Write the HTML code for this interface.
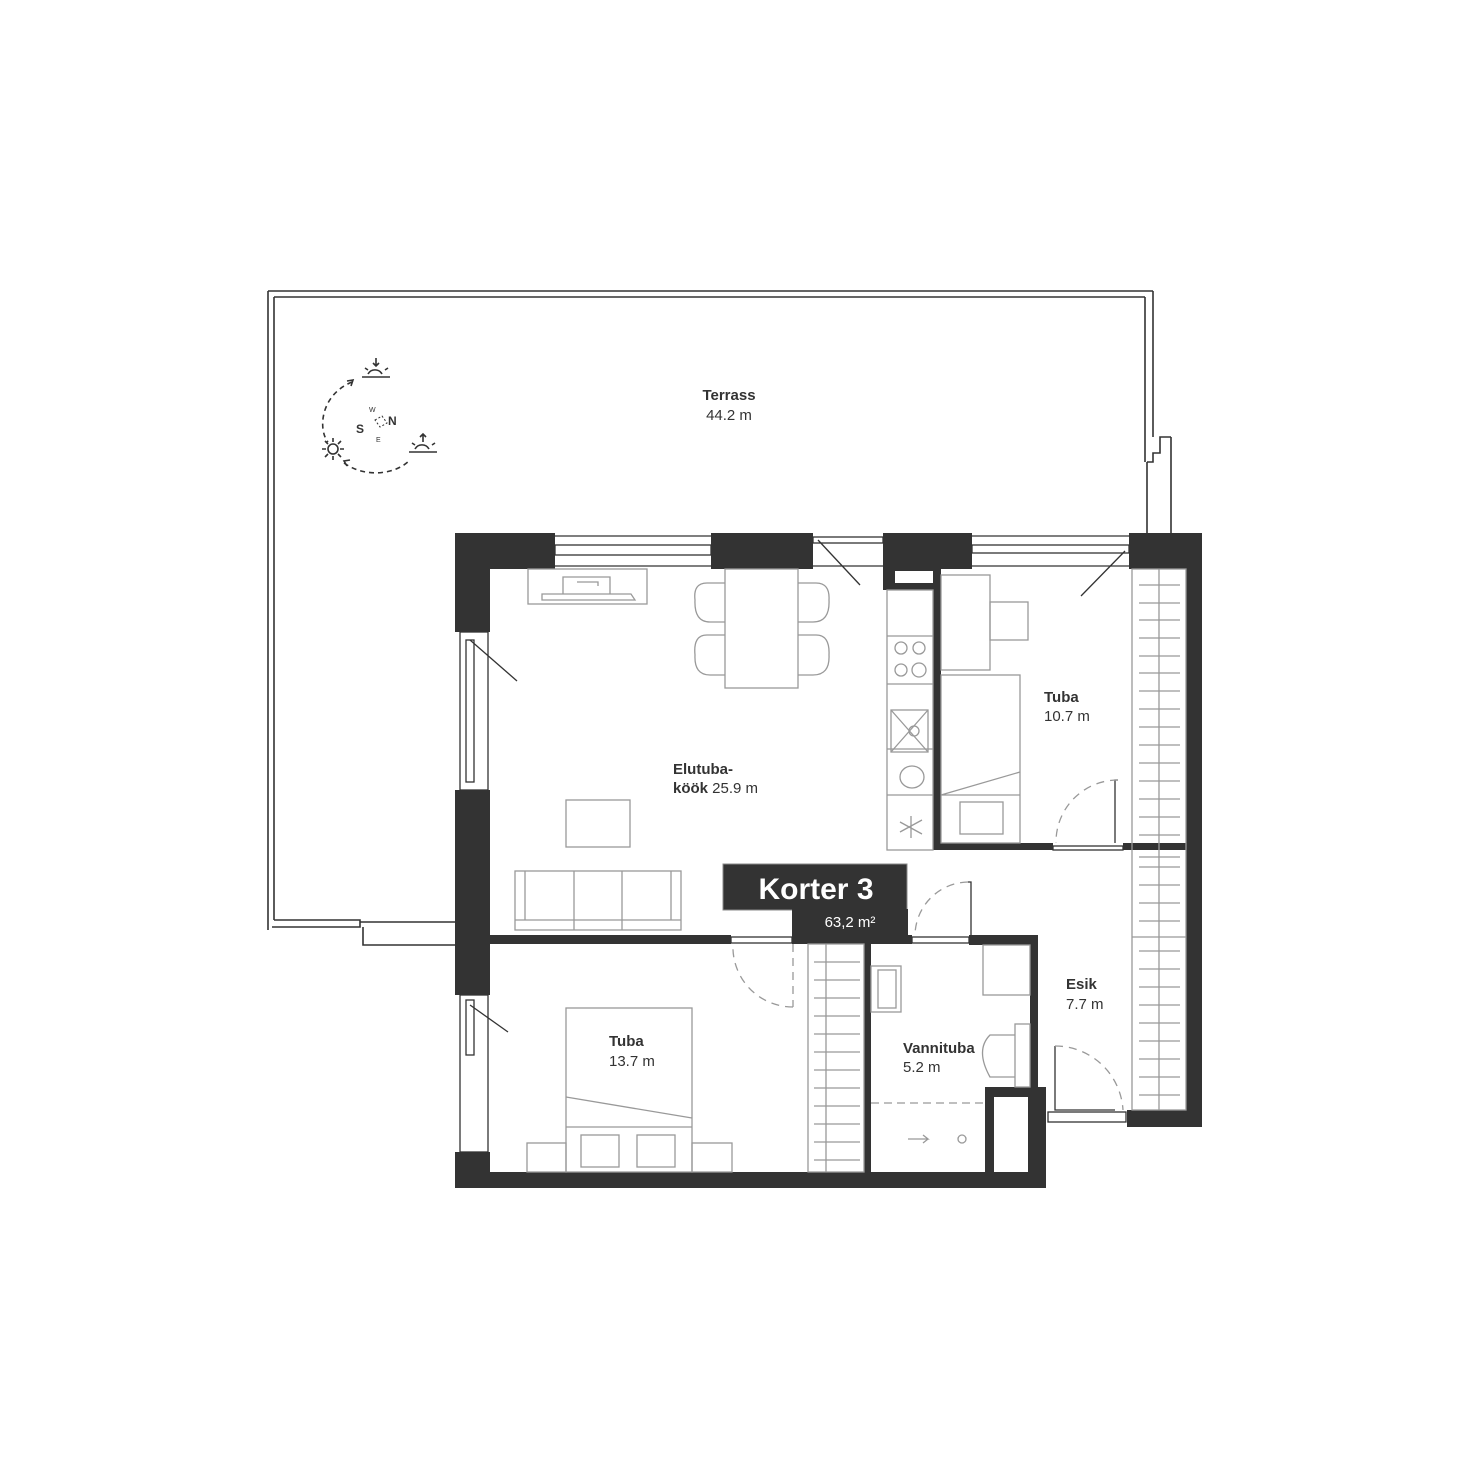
<!DOCTYPE html>
<html><head><meta charset="utf-8"><style>
html,body{margin:0;padding:0;background:#fff;}
svg{display:block;}
text{font-family:"Liberation Sans",sans-serif;fill:#333;}
</style></head><body>
<svg width="1480" height="1480" viewBox="0 0 1480 1480" xmlns="http://www.w3.org/2000/svg">
<rect width="1480" height="1480" fill="#fff"/>
<g fill="none" stroke="#333" stroke-width="1.6">
<path d="M268 291 H1153 M274 297 H1145 M268 291 V930 M274 297 V920 M274 920 H360 V927 H272 M360 922 H455 M363 927 V945 H455"/>
<path d="M1145 297 V462 M1153 291 V437 M1147 462 V533 M1171 437 V533 M1147 462 H1153 V453 H1160 V437 H1171"/>
</g>
<g fill="none" stroke="#333" stroke-width="1.6">
<path d="M352 382 C320 395 318 430 328 442" stroke-dasharray="5 4"/>
<path d="M344 463 C365 478 395 475 410 460" stroke-dasharray="5 4"/>
<path d="M347 381 l6 -1 l-2 6"/>
<path d="M350 460 l-6 1 l3 5"/>
<path d="M362 377 H390 M368 374 a8 8 0 0 1 14 0 M376 358 v8 M373 363 l3 3 l3 -3 M365 368 l3 2 M388 368 l-3 2"/>
<path d="M409 452 H437 M415 449 a8 8 0 0 1 14 0 M423 442 v-8 M420 437 l3 -3 l3 3 M412 443 l3 2 M435 443 l-3 2"/>
<circle cx="333" cy="449" r="5"/>
<path d="M333 438 v4 M333 456 v4 M322 449 h4 M340 449 h4 M325 441 l3 3 M341 441 l-3 3 M325 457 l3 -3 M341 457 l-3 -3"/>
<path d="M375 420 l7 -4 l5 7 l-7 4 z" stroke-width="1" stroke-dasharray="2 2"/>
</g>
<text x="356" y="433" font-size="12" font-weight="bold">S</text>
<text x="388" y="425" font-size="12" font-weight="bold">N</text>
<text x="369" y="412" font-size="7">W</text>
<text x="376" y="442" font-size="7">E</text>
<text x="729" y="400" font-size="15" text-anchor="middle" font-weight="bold">Terrass</text>
<text x="729" y="420" font-size="15" text-anchor="middle">44.2 m</text>

<g fill="none" stroke="#333" stroke-width="1.3">
<rect x="555" y="545" width="156" height="10"/><line x1="555" y1="536" x2="711" y2="536"/><line x1="555" y1="566" x2="711" y2="566"/>
<rect x="813" y="537" width="70" height="6"/><line x1="813" y1="566" x2="883" y2="566"/><line x1="818" y1="540" x2="860" y2="585"/>
<rect x="972" y="545" width="157" height="8"/><line x1="972" y1="536" x2="1129" y2="536"/><line x1="972" y1="566" x2="1129" y2="566"/>
<line x1="1125" y1="551" x2="1081" y2="596"/>
<rect x="460" y="632" width="28" height="158"/><rect x="466" y="640" width="8" height="142"/><line x1="470" y1="640" x2="517" y2="681"/>
<rect x="460" y="995" width="28" height="157"/><rect x="466" y="1000" width="8" height="55"/><line x1="470" y1="1005" x2="508" y2="1032"/>
<rect x="1053" y="846" width="70" height="4"/>
<rect x="1048" y="1112" width="78" height="10"/>
<rect x="912" y="937" width="57" height="6"/><rect x="731" y="937" width="61" height="6"/>
</g>

<g fill="#333">
<rect x="455" y="533" width="100" height="36"/>
<rect x="711" y="533" width="102" height="36"/>
<rect x="883" y="533" width="89" height="36"/>
<rect x="1129" y="533" width="73" height="36"/>
<rect x="455" y="533" width="35" height="99"/>
<rect x="455" y="790" width="35" height="205"/>
<rect x="455" y="1152" width="35" height="36"/>
<rect x="455" y="1172" width="591" height="16"/>
<rect x="1186" y="533" width="16" height="594"/>
<rect x="1127" y="1110" width="75" height="17"/>
<rect x="883" y="569" width="58" height="21"/>
<rect x="933" y="569" width="8" height="281"/>
<rect x="933" y="843" width="120" height="7"/>
<rect x="1123" y="843" width="63" height="7"/>
<rect x="490" y="935" width="241" height="9"/>
<rect x="792" y="935" width="120" height="9"/>
<rect x="969" y="935" width="68" height="10"/>
<rect x="864" y="944" width="7" height="228"/>
<rect x="1030" y="935" width="8" height="175"/>
<rect x="1028" y="1087" width="18" height="101"/>
<rect x="985" y="1087" width="45" height="85"/>
</g>
<rect x="895" y="571" width="38" height="12" fill="#fff"/>
<rect x="994" y="1097" width="34" height="75" fill="#fff"/>

<rect x="723" y="864" width="184" height="46" fill="#333" stroke="#888" stroke-width="1"/>
<rect x="792" y="909" width="116" height="35" fill="#333"/>
<text x="816" y="899" font-size="30" font-weight="bold" text-anchor="middle" style="fill:#fff">Korter  3</text>
<text x="850" y="927" font-size="15" text-anchor="middle" style="fill:#fff">63,2 m²</text>

<g fill="none" stroke="#999" stroke-width="1.3">
<rect x="528" y="569" width="119" height="35"/>
<path d="M542 594 H631 L635 600 H542 Z M563 577 H610 V594 H563 Z M577 582 H598 V586"/>
<rect x="725" y="569" width="73" height="119"/>
<path d="M725 583 H707 Q693 583 695 600 Q694 622 710 622 H725 M725 635 H707 Q693 635 695 655 Q694 675 710 675 H725"/>
<path d="M798 583 H816 Q830 583 829 600 Q830 622 813 622 H798 M798 635 H816 Q830 635 829 655 Q830 675 813 675 H798"/>
<rect x="566" y="800" width="64" height="47"/>
<rect x="515" y="871" width="166" height="59"/><line x1="515" y1="920" x2="681" y2="920"/><line x1="574" y1="871" x2="574" y2="930"/><line x1="622" y1="871" x2="622" y2="930"/><line x1="525" y1="871" x2="525" y2="920"/><line x1="671" y1="871" x2="671" y2="920"/>
<rect x="887" y="590" width="46" height="260"/>
<line x1="887" y1="636" x2="933" y2="636"/><line x1="887" y1="684" x2="933" y2="684"/><line x1="887" y1="795" x2="933" y2="795"/><line x1="887" y1="749" x2="933" y2="749"/>
<circle cx="901" cy="648" r="6"/><circle cx="919" cy="648" r="6"/><circle cx="901" cy="670" r="6"/><circle cx="919" cy="670" r="7"/>
<rect x="891" y="710" width="37" height="42"/><path d="M891 710 L928 752 M928 710 L891 752"/><circle cx="914" cy="731" r="5"/>
<ellipse cx="912" cy="777" rx="12" ry="11"/>
<path d="M900 822 l22 12 M911 816 v22 M900 832 l22 -12"/>
<rect x="941" y="575" width="49" height="95"/>
<rect x="990" y="602" width="38" height="38"/>
<rect x="941" y="675" width="79" height="168"/>
<path d="M941 795 L1020 772 M941 795 H1020"/>
<rect x="960" y="802" width="43" height="32"/>
<path d="M1118 780 H1115 V843" stroke="#333"/>
<path d="M1118 780 A62 62 0 0 0 1056 843" stroke-dasharray="8 6"/>
<rect x="1132" y="569" width="54" height="541"/>
<line x1="1159" y1="569" x2="1159" y2="1110"/>
<path d="M1139 585 H1180 M1139 603 H1180 M1139 620 H1180 M1139 638 H1180 M1139 656 H1180 M1139 673 H1180 M1139 691 H1180 M1139 709 H1180 M1139 727 H1180 M1139 745 H1180 M1139 763 H1180 M1139 781 H1180 M1139 799 H1180 M1139 817 H1180 M1139 835 H1180 M1139 857 H1180 M1139 867 H1180 M1139 885 H1180 M1139 903 H1180 M1139 921 H1180 M1139 951 H1180 M1139 969 H1180 M1139 987 H1180 M1139 1005 H1180 M1139 1023 H1180 M1139 1041 H1180 M1139 1059 H1180 M1139 1077 H1180 M1139 1095 H1180"/>
<line x1="1132" y1="937" x2="1186" y2="937"/>
<path d="M968 882 H971 V935" stroke="#333"/>
<path d="M968 882 A54 54 0 0 0 915 935" stroke-dasharray="8 6"/>
<path d="M793 944 V1007 M793 1007 A60 60 0 0 1 733 944" stroke-dasharray="8 6"/>
<rect x="808" y="944" width="56" height="228"/><line x1="826" y1="944" x2="826" y2="1172"/>
<path d="M814 962 H860 M814 980 H860 M814 998 H860 M814 1016 H860 M814 1034 H860 M814 1052 H860 M814 1070 H860 M814 1088 H860 M814 1106 H860 M814 1124 H860 M814 1142 H860 M814 1160 H860"/>
<rect x="566" y="1008" width="126" height="164"/>
<path d="M566 1097 L692 1118 M566 1127 H692"/>
<rect x="581" y="1135" width="38" height="32"/><rect x="637" y="1135" width="38" height="32"/>
<rect x="527" y="1143" width="39" height="29"/><rect x="692" y="1143" width="40" height="29"/>
<rect x="871" y="966" width="30" height="46"/><rect x="878" y="970" width="18" height="38"/>
<rect x="983" y="945" width="47" height="50"/>
<rect x="1015" y="1024" width="15" height="63"/>
<path d="M1015 1035 H990 Q975 1050 990 1077 H1015"/>
<path d="M871 1103 H985" stroke-dasharray="8 5"/>
<path d="M908 1139 H928 l-5 -4 M928 1139 l-5 4"/><circle cx="962" cy="1139" r="4"/>
<path d="M1115 1110 H1055 V1046" stroke="#333"/>
<path d="M1055 1046 A68 68 0 0 1 1123 1110" stroke-dasharray="8 6"/>
</g>

<text x="673" y="774" font-size="15" font-weight="bold">Elutuba-</text>
<text x="673" y="793" font-size="15"><tspan font-weight="bold">köök</tspan> 25.9 m</text>
<text x="1044" y="702" font-size="15" font-weight="bold">Tuba</text>
<text x="1044" y="721" font-size="15">10.7 m</text>
<text x="609" y="1046" font-size="15" font-weight="bold">Tuba</text>
<text x="609" y="1066" font-size="15">13.7 m</text>
<text x="903" y="1053" font-size="15" font-weight="bold">Vannituba</text>
<text x="903" y="1072" font-size="15">5.2 m</text>
<text x="1066" y="989" font-size="15" font-weight="bold">Esik</text>
<text x="1066" y="1009" font-size="15">7.7 m</text>
</svg>
</body></html>
